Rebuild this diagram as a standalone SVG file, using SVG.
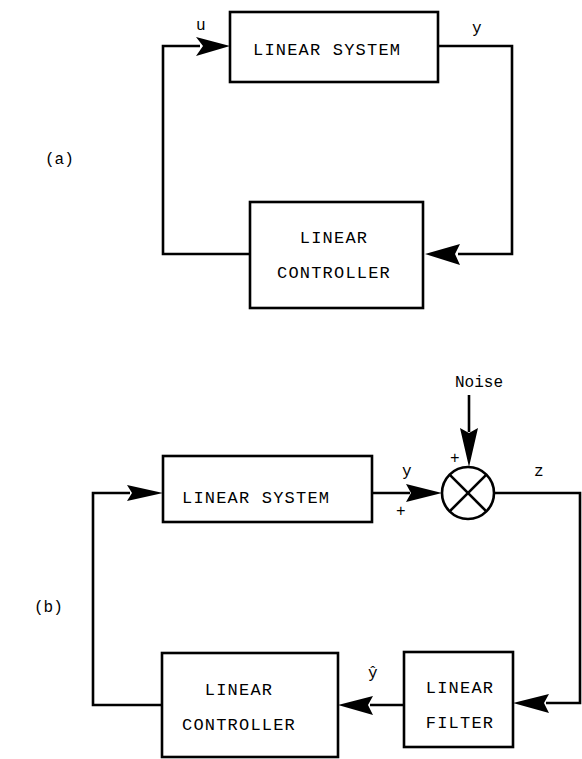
<svg xmlns="http://www.w3.org/2000/svg" width="582" height="759" viewBox="0 0 582 759">
<defs>
<style>
.box{fill:#fff;stroke:#000;stroke-width:2.6}
.ln{fill:none;stroke:#000;stroke-width:2.6}
.t{font-family:"Liberation Mono","DejaVu Sans Mono",monospace;font-size:17px;letter-spacing:1.2px;fill:#000}
.s{font-family:"Liberation Mono","DejaVu Sans Mono",monospace;font-size:16px;fill:#000}
.ah{fill:#000}
</style>
</defs>
<g id="connectors">
<!-- (a) -->
<polyline class="ln" points="250,254 163,254 163,46 200,46"/>
<polygon class="ah" points="230,46 196,37 203,46 196,56"/>
<line class="ln" x1="232" y1="46" x2="244" y2="46" stroke-width="1.5"/>
<polyline class="ln" points="438,46 512,46 512,254 458,254"/>
<polygon class="ah" points="425,254 460,244 455,254 460,265"/>
<!-- (b) -->
<polyline class="ln" points="162,705 93,705 93,493 130,493"/>
<polygon class="ah" points="163,493 127,485 132,493 127,501"/>
<line class="ln" x1="372" y1="493" x2="410" y2="493"/>
<polygon class="ah" points="442,493 406,484 411,493 406,502"/>
<line class="ln" x1="469" y1="395" x2="469" y2="432"/>
<polygon class="ah" points="469,467 460,428 469,433 478,428"/>
<polyline class="ln" points="494,493 580,493 580,703 546,703"/>
<polygon class="ah" points="513,703 549,694 544,703 549,713"/>
<line class="ln" x1="404" y1="705" x2="370" y2="705"/>
<polygon class="ah" points="338,705 373,696 368,705 373,715"/>
</g>
<g id="a-system">
<rect class="box" x="230" y="12" width="208" height="70"/>
<text class="t" x="253" y="55">LINEAR SYSTEM</text>
</g>
<g id="a-controller">
<rect class="box" x="250" y="202" width="173" height="106"/>
<text class="t" x="334" y="243" text-anchor="middle">LINEAR</text>
<text class="t" x="334" y="278" text-anchor="middle">CONTROLLER</text>
</g>
<g id="a-labels">
<text class="s" x="196" y="30">u</text>
<text class="s" x="472" y="33">y</text>
<text class="s" x="45" y="164" font-size="17">(a)</text>
</g>
<g id="b-system">
<rect class="box" x="163" y="456" width="209" height="66"/>
<text class="t" x="182" y="503">LINEAR SYSTEM</text>
</g>
<g id="b-sum">
<circle class="box" cx="468" cy="493" r="26"/>
<line class="ln" x1="449.6" y1="474.6" x2="486.4" y2="511.4"/>
<line class="ln" x1="486.4" y1="474.6" x2="449.6" y2="511.4"/>
</g>
<g id="b-controller">
<rect class="box" x="162" y="653" width="176" height="104"/>
<text class="t" x="239" y="695" text-anchor="middle">LINEAR</text>
<text class="t" x="239" y="730" text-anchor="middle">CONTROLLER</text>
</g>
<g id="b-filter">
<rect class="box" x="404" y="652" width="109" height="95"/>
<text class="t" x="460" y="693" text-anchor="middle">LINEAR</text>
<text class="t" x="460" y="728" text-anchor="middle">FILTER</text>
</g>
<g id="b-labels">
<text class="s" x="479" y="387" text-anchor="middle">Noise</text>
<text class="s" x="450" y="463">+</text>
<text class="s" x="402" y="476">y</text>
<text class="s" x="396" y="516">+</text>
<text class="s" x="534" y="476">z</text>
<text class="s" x="368" y="678" font-size="17">ŷ</text>
<text class="s" x="34" y="612" font-size="17">(b)</text>
</g>
</svg>
